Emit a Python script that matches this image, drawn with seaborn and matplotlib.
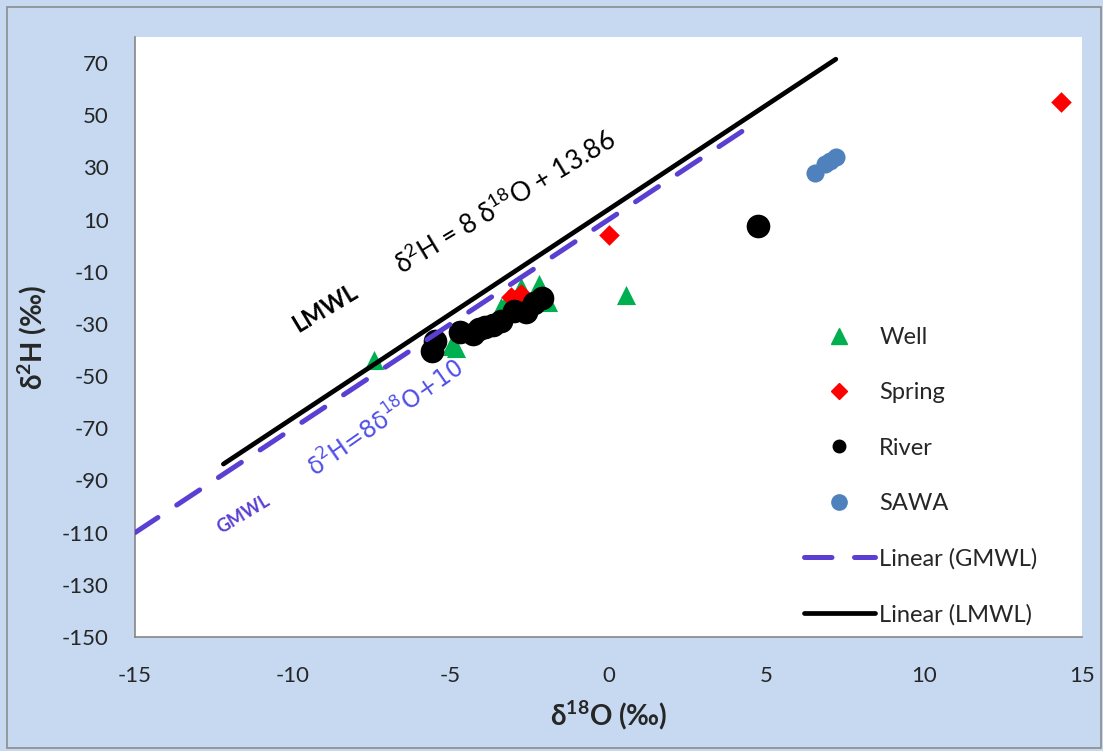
"""
Stable isotope plot (d18O vs d2H) with GMWL and LMWL reference lines.
"""

import matplotlib
matplotlib.use("Agg")
import pandas as pd
import matplotlib.pyplot as plt
import seaborn as sns
from matplotlib.lines import Line2D
from matplotlib.patches import Rectangle

well_o18 = [-7.44, -4.84, -5.0, -3.41, -2.78, -2.2, -1.93, -3.2, 0.56]
well_h2 = [-44.0, -39.4, -38.5, -23.6, -16.0, -14.6, -21.7, -20.5, -18.8]

spring_o18 = [-3.1, -2.78, 0.02, 14.33]
spring_h2 = [-19.8, -18.4, 4.2, 55.1]

river_o18 = [-5.6, -5.5, -4.7, -4.3, -4.1, -3.9, -3.65, -3.4, -3.0, -2.6, -2.35, -2.1, 4.75]
river_h2 = [-40.5, -36.5, -33.0, -34.0, -32.0, -31.0, -30.5, -29.0, -25.0, -25.5, -22.0, -20.0, 7.6]

sawa_o18 = [6.53, 6.85, 7.0, 7.22]
sawa_h2 = [28.0, 31.2, 32.5, 34.0]

# Trendlinien
gmwl_o18 = [-15.0, 4.8]
gmwl_h2 = [-110.0, 48.4]
lmwl_o18 = [-12.2, 7.2]
lmwl_h2 = [-83.7, 71.5]

x_ticks = [-15, -10, -5, 0, 5, 10, 15]
y_ticks = list(range(-150, 71, 20))

GREEN = "#00B050"
RED = "#FF0000"
BLACK = "#000000"
BLUE = "#4F81BD"
PURPLE = "#5B3FD2"
BG = "#C6D9F1"

sns.set_style("white")
plt.rcParams["font.family"] = ["Lato", "DejaVu Sans"]
plt.rcParams["axes.unicode_minus"] = False
plt.rcParams["mathtext.fontset"] = "custom"
plt.rcParams["mathtext.rm"] = "Lato"
plt.rcParams["mathtext.bf"] = "Lato:bold"

fig = plt.figure(figsize=(11.03, 7.51), dpi=100, facecolor=BG)
fig.patches.append(Rectangle((0.006, 0.004), 0.992, 0.987, transform=fig.transFigure,
                             facecolor="none", edgecolor="#8C8C8C", linewidth=1.2))
ax = fig.add_axes([0.1224, 0.1518, 0.8586, 0.7989])
ax.set_facecolor("white")

df_well = pd.DataFrame({"o18": well_o18, "h2": well_h2})
df_spring = pd.DataFrame({"o18": spring_o18, "h2": spring_h2})
df_river = pd.DataFrame({"o18": river_o18, "h2": river_h2})
df_sawa = pd.DataFrame({"o18": sawa_o18, "h2": sawa_h2})

sns.scatterplot(data=df_well, x="o18", y="h2", marker="^", s=190, color=GREEN,
                edgecolor=GREEN, linewidth=0, ax=ax, zorder=2)
sns.scatterplot(data=df_spring, x="o18", y="h2", marker="D", s=110, color=RED,
                edgecolor=RED, linewidth=0, ax=ax, zorder=2)
sns.scatterplot(data=df_river, x="o18", y="h2", marker="o", s=290, color=BLACK,
                edgecolor=BLACK, linewidth=0, ax=ax, zorder=2)
sns.scatterplot(data=df_sawa, x="o18", y="h2", marker="o", s=170, color=BLUE,
                edgecolor=BLUE, linewidth=0, ax=ax, zorder=2)

df_gmwl = pd.DataFrame({"o18": gmwl_o18, "h2": gmwl_h2})
df_lmwl = pd.DataFrame({"o18": lmwl_o18, "h2": lmwl_h2})
sns.lineplot(data=df_lmwl, x="o18", y="h2", color=BLACK, linewidth=3.4,
             estimator=None, sort=False, ax=ax, zorder=3)
sns.lineplot(data=df_gmwl, x="o18", y="h2", color=PURPLE, linewidth=3.6,
             linestyle=(0, (5.5, 4.5)), dash_capstyle="round",
             estimator=None, sort=False, ax=ax, zorder=3)

ax.set_xlim(-15, 15)
ax.set_ylim(-150, 80)
ax.set_xticks(x_ticks)
ax.set_yticks(y_ticks)
ax.tick_params(axis="both", labelsize=16, length=0)
ax.tick_params(axis="y", pad=19)
ax.tick_params(axis="x", pad=21)
for side in ["top", "right"]:
    ax.spines[side].set_visible(False)
for side in ["left", "bottom"]:
    ax.spines[side].set_color("#868686")
    ax.spines[side].set_linewidth(1.2)

ax.set_xlabel(r"δ$\mathbf{^{18}}$O (‰)", fontsize=20, fontweight="bold", labelpad=9)
ax.set_ylabel(r"δ$\mathbf{^{2}}$H (‰)", fontsize=20, fontweight="bold", labelpad=9)

# Beschriftungen der Linien
ax.text(-3.25, 16.5, r"δ$\mathregular{^{2}}$H = 8 δ$\mathregular{^{18}}$O + 13.86",
        fontsize=19, rotation=31, ha="center", va="center", color=BLACK)
ax.text(-8.97, -24.1, "LMWL", fontsize=17, fontweight="bold", rotation=31,
        ha="center", va="center", color=BLACK)
ax.text(-11.57, -103, "GMWL", fontsize=13, fontweight="bold", rotation=31,
        ha="center", va="center", color=PURPLE)
ax.text(-7.05, -66, r"δ$\mathregular{^{2}}$H=8δ$\mathregular{^{18}}$O+10",
        fontsize=17, rotation=35, ha="center", va="center", color="#5050E8",
        family=["Liberation Sans Narrow", "DejaVu Sans"])

# Legende
handles = [
    Line2D([], [], linestyle="none", marker="^", markersize=11, color=GREEN),
    Line2D([], [], linestyle="none", marker="D", markersize=8, color=RED),
    Line2D([], [], linestyle="none", marker="o", markersize=9, color=BLACK),
    Line2D([], [], linestyle="none", marker="o", markersize=11, color=BLUE),
    Line2D([], [], color=PURPLE, linewidth=3.6, linestyle=(0, (5.5, 4.5)),
           dash_capstyle="round"),
    Line2D([], [], color=BLACK, linewidth=3.4),
]
labels = ["Well", "Spring", "River", "SAWA", "Linear (GMWL)", "Linear (LMWL)"]
ax.legend(handles, labels, loc="upper left", bbox_to_anchor=(0.718, 0.580),
          bbox_transform=fig.transFigure, frameon=False, fontsize=17,
          handlelength=3.0, handletextpad=0.2, labelspacing=1.45, borderpad=0)

plt.savefig("out.png", dpi=100, facecolor=BG)
